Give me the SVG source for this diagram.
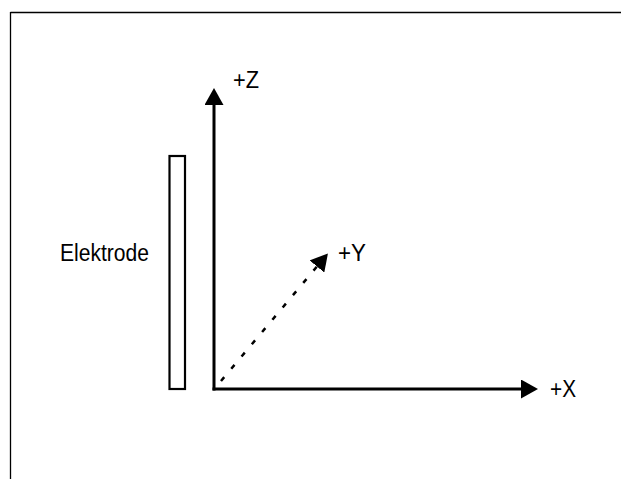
<svg xmlns="http://www.w3.org/2000/svg" width="621" height="479" viewBox="0 0 621 479">
<style>
  .lbl { font-family: "Liberation Sans", Arial, sans-serif; font-size: 23.5px; fill: #000; }
  .axis { stroke: #000; stroke-width: 3; fill: none; }
  .dash { stroke: #000; stroke-width: 2.5; fill: none; stroke-dasharray: 5 11; }
</style>
<defs>
  <marker id="arr" markerUnits="userSpaceOnUse" markerWidth="17" markerHeight="19" refX="0" refY="9.5" orient="auto">
    <path d="M0,0 L17,9.5 L0,19 z" fill="#000"/>
  </marker>
</defs>
<rect width="621" height="479" fill="#fff"/>
<g id="frame">
  <line x1="10.5" y1="12.5" x2="621" y2="12.5" stroke="#000" stroke-width="1.3"/>
  <line x1="10.5" y1="12" x2="10.5" y2="479" stroke="#000" stroke-width="1.3"/>
</g>
<g id="electrode">
  <rect x="169.5" y="156" width="15.5" height="233" fill="#fff" stroke="#000" stroke-width="2.2"/>
  <text class="lbl" x="60" y="261" textLength="89" lengthAdjust="spacingAndGlyphs">Elektrode</text>
</g>
<g id="connectors">
  <line class="axis" x1="214" y1="390.5" x2="214" y2="105" marker-end="url(#arr)"/>
  <line class="axis" x1="212.5" y1="389" x2="521" y2="389" marker-end="url(#arr)"/>
  <line class="dash" x1="221" y1="381" x2="317" y2="266.5" marker-end="url(#arr)"/>
</g>
<g id="label-z">
  <text class="lbl" x="233" y="88" textLength="26" lengthAdjust="spacingAndGlyphs">+Z</text>
</g>
<g id="label-y">
  <text class="lbl" x="338" y="261" textLength="28" lengthAdjust="spacingAndGlyphs">+Y</text>
</g>
<g id="label-x">
  <text class="lbl" x="550" y="397" textLength="26" lengthAdjust="spacingAndGlyphs">+X</text>
</g>
</svg>
